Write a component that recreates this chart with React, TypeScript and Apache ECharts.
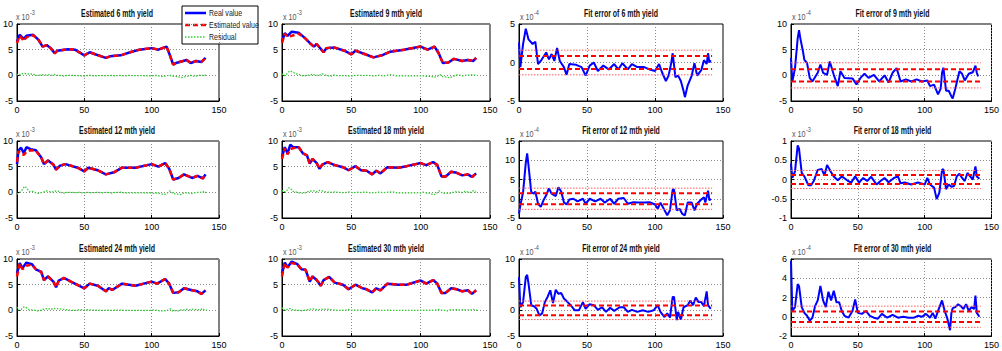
import React, { useEffect, useRef } from 'react';
import * as echarts from 'echarts';

// ---------- DATA (yields in units of 1e-3, fit errors in the units shown on each axis) ----------
const xTicks = [0, 50, 100, 150];

const real6 = [[0,6.6],[2,7.9],[5,7.1],[7,7.7],[12,7.9],[16,6.9],[19,5.6],[22,5.9],[25,5.3],[28,4.3],[30,4.8],[38,5.1],[43,5.0],[50,3.9],[54,4.5],[58,4.1],[66,3.4],[69,3.7],[77,3.9],[84,4.5],[91,5.0],[100,5.3],[105,5.0],[111,5.6],[113,4.3],[116,2.1],[118,2.4],[122,2.7],[126,3.0],[129,2.4],[133,2.8],[137,2.6],[140,3.4]];
const real9 = [[0,6.6],[2,8.2],[4,7.7],[7,8.5],[12,8.3],[16,7.4],[20,6.3],[23,5.6],[25,6.1],[30,4.5],[32,5.3],[38,5.4],[45,4.8],[50,4.1],[53,4.8],[60,4.1],[66,3.5],[72,3.9],[78,4.6],[88,5.0],[100,5.6],[105,5.0],[110,5.6],[113,4.3],[116,2.4],[120,2.5],[124,3.2],[130,2.8],[134,3.0],[138,2.8],[140,3.4]];
const real12 = [[0,5.5],[1,8.1],[3,8.7],[5,7.6],[7,8.8],[10,8.4],[14,8.2],[18,6.8],[20,5.5],[23,6.2],[27,5.4],[29,4.4],[32,5.2],[36,5.5],[45,4.8],[50,4.1],[53,4.8],[60,4.3],[66,3.5],[72,3.9],[78,4.8],[88,4.8],[100,5.5],[105,5.0],[110,5.7],[113,4.6],[116,2.5],[120,2.8],[124,3.5],[130,2.8],[134,3.2],[138,2.7],[140,3.5]];
const real18 = [[0,6.9],[2,8.8],[4,7.6],[6,9.3],[8,8.8],[12,8.8],[15,7.6],[18,7.2],[20,5.6],[22,6.5],[25,5.7],[27,4.6],[29,5.4],[33,5.9],[38,5.3],[44,4.9],[48,4.3],[53,5.1],[57,4.3],[61,4.2],[65,3.5],[68,4.2],[71,3.7],[76,4.9],[84,4.8],[90,5.1],[100,5.7],[104,5.3],[109,5.9],[112,5.3],[115,3.1],[118,3.1],[122,4.0],[126,3.8],[130,3.3],[134,3.5],[137,3.0],[140,3.7]];
const real24 = [[0,7.2],[2,9.2],[4,8.2],[7,9.3],[11,9.0],[14,8.0],[18,7.5],[20,5.9],[23,6.6],[27,5.6],[29,4.5],[31,5.8],[35,6.3],[40,5.6],[46,4.8],[50,4.3],[54,5.2],[60,4.8],[66,3.7],[68,4.3],[71,4.0],[78,5.2],[88,4.8],[100,5.6],[104,5.2],[110,6.1],[113,5.2],[116,3.4],[120,3.5],[124,4.3],[130,3.9],[134,3.7],[137,3.2],[140,3.9]];
const real30 = [[0,7.2],[2,9.3],[4,8.4],[7,9.5],[11,9.0],[14,8.0],[17,7.9],[20,5.6],[22,6.6],[25,5.9],[28,4.8],[30,5.9],[34,6.5],[38,5.4],[44,5.0],[48,4.1],[53,5.0],[58,4.3],[61,4.1],[65,3.5],[68,4.3],[71,3.9],[76,5.2],[84,5.0],[90,5.0],[100,5.8],[104,5.2],[109,5.9],[112,5.2],[115,3.4],[118,3.4],[122,4.3],[126,4.1],[130,3.7],[134,3.9],[137,3.2],[140,3.9]];

// estimated values: where they visibly depart from the real values (first months)
const estHead6 = [[0,6.3],[2,7.7],[5,6.7],[7,7.4],[12,7.8]];
const estHead9 = [[0,6.3],[2,8.1],[4,7.5],[7,7.7],[12,8.1]];
const estHead12 = [[0,5.9],[1,8.0],[3,7.5],[5,7.3],[7,7.9],[10,8.2],[14,8.1]];
const estHead18 = [[0,6.5],[2,8.6],[4,7.4],[6,8.4],[8,8.6],[12,8.8]];
const estHead24 = [[0,6.6],[2,9.1],[4,8.0],[7,8.7],[11,8.9]];
const estHead30 = [[0,6.6],[2,9.2],[4,8.3],[7,9.2],[11,9.0]];

// fit errors: 6, 9, 12, 24, 30 mth in 1e-4 ; 18 mth in 1e-3
const fit6 = [[0,2.6],[1,-0.6],[3,2.4],[5,4.4],[7,3.0],[10,2.4],[12,2.7],[14,-0.2],[16,0.2],[20,1.3],[22,0.4],[24,1.1],[26,0.2],[28,1.9],[30,0.2],[33,-0.6],[35,-1.6],[37,-0.2],[42,-0.3],[46,-0.6],[49,-1.7],[52,-0.4],[55,0],[58,-1.1],[62,-0.4],[66,-0.9],[70,-0.2],[73,-0.9],[76,-0.1],[80,-0.9],[83,-0.2],[87,-0.6],[92,-0.6],[96,-0.9],[100,-1.1],[103,-0.2],[105,-1.2],[108,-2.4],[110,-1.7],[112,0],[113,1.2],[115,-1.9],[117,-1.7],[119,-2.4],[121,-3.7],[122,-4.5],[124,-3.0],[127,-1.7],[129,-0.1],[131,-1.7],[134,-1.0],[136,0.3],[138,-0.2],[139,1.2],[140,0],[141,0.3]];
const fit9 = [[0,3.4],[1,-1.2],[3,1.4],[5,7.2],[6,8.8],[7,7.2],[9,4.6],[10,3.0],[12,2.4],[14,-0.5],[16,-1.2],[20,0.5],[22,2.1],[24,0.5],[27,0.1],[29,2.7],[32,0.1],[35,-2.1],[37,0.8],[40,-0.5],[46,-0.6],[49,-1.8],[52,-0.5],[55,0.3],[58,-0.5],[62,0.1],[66,-1.2],[70,0],[73,-1.4],[76,0.5],[79,1.4],[82,-1.2],[86,-0.8],[90,-1.2],[94,-0.8],[98,-1.2],[102,-1.0],[104,-2.1],[107,-1.8],[110,-3.7],[112,-2.6],[113,0.5],[114,1.5],[116,-3.0],[118,-3.0],[120,-4.1],[121,-4.5],[123,-2.5],[126,0.8],[128,0.3],[130,-1.0],[133,0.3],[136,0.6],[138,1.9],[139,0.5],[140,-0.2]];
const fit12 = [[0,-3.9],[1,-1.7],[3,1.7],[5,9.4],[6,11.8],[7,8.6],[9,1.7],[11,1.3],[12,1.9],[14,-1.3],[16,-2.1],[18,-0.4],[20,0.9],[22,2.7],[24,1.3],[27,0.7],[29,3.0],[31,1.9],[33,-0.9],[35,-1.5],[37,-0.2],[40,0],[43,-0.7],[47,0],[49,-1.3],[52,0],[56,-0.7],[60,0],[63,-1.0],[67,0],[70,-1.3],[73,0],[77,0.2],[80,-1.3],[84,-0.9],[88,-1.0],[92,-1.0],[96,-0.9],[100,-1.5],[102,-2.6],[104,-1.0],[107,-3.0],[109,-4.3],[111,-3.0],[113,2.4],[114,2.4],[116,-3.0],[118,-2.6],[120,-3.9],[122,-4.3],[124,-1.0],[127,-1.0],[129,-3.0],[131,-1.3],[134,-0.2],[136,0.4],[137,-1.0],[139,2.1],[140,-0.4],[141,0]];
const fit18 = [[0,0.42],[1,0.04],[3,0.21],[5,0.89],[6,0.8],[8,0.17],[10,0.08],[13,-0.15],[15,-0.15],[17,-0.04],[20,0.25],[23,0.27],[25,0.1],[27,0.38],[30,0.19],[32,0.08],[35,-0.02],[38,0.08],[42,-0.02],[45,-0.08],[48,0.08],[51,-0.08],[54,0.04],[57,-0.04],[60,0.07],[64,-0.13],[67,-0.04],[70,0.04],[73,-0.07],[77,0.04],[80,0.08],[82,-0.1],[85,-0.08],[90,-0.13],[95,-0.08],[100,-0.13],[102,0.04],[104,-0.13],[107,-0.21],[109,-0.51],[111,-0.34],[113,0.25],[114,0.27],[116,-0.25],[118,-0.13],[120,-0.19],[122,-0.17],[124,0.08],[126,0.15],[128,0.04],[130,-0.04],[132,0.17],[134,0.08],[136,0],[138,0.34],[139,0.08],[141,0.02]];
const fit24 = [[0,6.5],[1,0.6],[3,1.6],[5,6.5],[6,6.9],[7,5.2],[9,1.0],[11,0.8],[13,0.3],[15,-1.0],[17,-0.6],[19,1.6],[21,2.6],[23,3.9],[25,1.4],[27,4.0],[29,3.2],[31,3.4],[33,2.3],[35,1.8],[38,1.0],[41,0],[44,0],[47,1.6],[49,0.3],[52,1.2],[55,1.0],[58,0.1],[61,0.6],[64,-0.3],[67,0.5],[70,-0.1],[74,0.6],[77,0.6],[80,-0.3],[83,0.1],[87,-0.3],[91,0],[95,-0.3],[99,0],[102,1.0],[104,-0.3],[107,-1.3],[109,-0.6],[111,-1.4],[113,2.6],[114,2.6],[116,-1.9],[117,-0.3],[119,-1.8],[121,0.6],[124,1.0],[126,1.9],[128,1.0],[130,2.5],[132,1.6],[134,1.6],[136,0.8],[138,3.7],[139,1.0],[141,0.3]];
const fit30 = [[0,5.8],[1,0.6],[3,1.0],[5,3.4],[6,3.2],[8,1.0],[10,0.4],[12,0.1],[14,-0.4],[16,-0.1],[18,1.1],[20,1.7],[22,3.2],[24,1.7],[26,1.0],[28,2.6],[30,1.7],[32,2.7],[34,1.5],[36,1.5],[38,0.6],[40,0.1],[43,-0.1],[46,0.6],[48,1.8],[50,0.4],[53,0.3],[56,0.6],[59,0.1],[62,-0.1],[65,-0.2],[68,0.3],[72,-0.1],[76,0.2],[80,-0.1],[84,0],[88,-0.1],[92,-0.1],[95,0.1],[98,0],[101,0.3],[104,-0.1],[106,0.4],[108,-0.2],[110,0.6],[113,1.7],[115,0.6],[117,-0.2],[119,-1.4],[120,0.4],[121,0.9],[123,1.0],[125,1.3],[127,1.1],[129,0.8],[131,1.3],[133,0.6],[135,1.0],[137,0.8],[138,2.2],[139,0.4],[141,0]];

// confidence bands [dashed, dotted]
const band6 = [0.85, 1.6];
const band9 = [1.2, 2.45];
const band12 = [1.4, 2.75];
const band18 = [0.12, 0.235];
const band24 = [0.95, 1.8];
const band30 = [0.55, 1.1];
const bandEnd = 142;

// y-axis ranges [min, max, interval]
const yieldAxis = [-5, 10, 5];
const fitAxis6 = [-5, 5, 5];
const fitAxis9 = [-5, 10, 5];
const fitAxis12 = [-5, 15, 5];
const fitAxis18 = [-1, 1, 0.5];
const fitAxis24 = [-5, 10, 5];
const fitAxis30 = [-2, 6, 2];

const legendNames = ['Real value', 'Estimated value', 'Residual'];

// ---------- helpers ----------
const withHead = (head: number[][], real: number[][]) =>
  head.concat(real.filter((p) => p[0] > head[head.length - 1][0]));
// residuals of the yield plots are the fit errors expressed in units of 1e-3
const toE3 = (fit: number[][], scale: number) => fit.map((p) => [p[0], p[1] * scale]);

type Plot = {
  kind: 'yield' | 'fit';
  title: string;
  exp: string;
  col: number;
  row: number;
  axis: number[];
  real?: number[][];
  est?: number[][];
  res?: number[][];
  fit?: number[][];
  band?: number[];
};

const plots: Plot[] = [
  { kind: 'yield', title: 'Estimated 6 mth yield', exp: '-3', col: 0, row: 0, axis: yieldAxis, real: real6, est: withHead(estHead6, real6), res: toE3(fit6, 0.1) },
  { kind: 'yield', title: 'Estimated 9 mth yield', exp: '-3', col: 1, row: 0, axis: yieldAxis, real: real9, est: withHead(estHead9, real9), res: toE3(fit9, 0.1) },
  { kind: 'yield', title: 'Estimated 12 mth yield', exp: '-3', col: 0, row: 1, axis: yieldAxis, real: real12, est: withHead(estHead12, real12), res: toE3(fit12, 0.1) },
  { kind: 'yield', title: 'Estimated 18 mth yield', exp: '-3', col: 1, row: 1, axis: yieldAxis, real: real18, est: withHead(estHead18, real18), res: toE3(fit18, 1) },
  { kind: 'yield', title: 'Estimated 24 mth yield', exp: '-3', col: 0, row: 2, axis: yieldAxis, real: real24, est: withHead(estHead24, real24), res: toE3(fit24, 0.1) },
  { kind: 'yield', title: 'Estimated 30 mth yield', exp: '-3', col: 1, row: 2, axis: yieldAxis, real: real30, est: withHead(estHead30, real30), res: toE3(fit30, 0.1) },
  { kind: 'fit', title: 'Fit error of 6 mth yield', exp: '-4', col: 2, row: 0, axis: fitAxis6, fit: fit6, band: band6 },
  { kind: 'fit', title: 'Fit error of 9 mth yield', exp: '-4', col: 3, row: 0, axis: fitAxis9, fit: fit9, band: band9 },
  { kind: 'fit', title: 'Fit error of 12 mth yield', exp: '-4', col: 2, row: 1, axis: fitAxis12, fit: fit12, band: band12 },
  { kind: 'fit', title: 'Fit error of 18 mth yield', exp: '-3', col: 3, row: 1, axis: fitAxis18, fit: fit18, band: band18 },
  { kind: 'fit', title: 'Fit error of 24 mth yield', exp: '-4', col: 2, row: 2, axis: fitAxis24, fit: fit24, band: band24 },
  { kind: 'fit', title: 'Fit error of 30 mth yield', exp: '-4', col: 3, row: 2, axis: fitAxis30, fit: fit30, band: band30 },
];

// ---------- layout ----------
const COLS = [
  { left: 15, width: 204 },
  { left: 282, width: 208 },
  { left: 519, width: 204 },
  { left: 791, width: 203 },
];
const ROWS = [
  { top: 24, height: 77 },
  { top: 141, height: 77 },
  { top: 259, height: 77 },
];
const FONT = "'Liberation Sans', Arial, sans-serif";
const SQUEEZE = 0.7;

const BLUE = '#0000ff';
const RED = '#ff0000';
const GREEN = '#33cc33';

function buildOption() {
  const grid: any[] = [];
  const xAxis: any[] = [];
  const yAxis: any[] = [];
  const series: any[] = [];
  const graphic: any[] = [];

  plots.forEach((p, i) => {
    const c = COLS[p.col];
    const r = ROWS[p.row];
    grid.push({
      left: c.left, top: r.top, width: c.width, height: r.height,
      show: true, borderColor: '#000', borderWidth: 1, backgroundColor: '#fff',
    });
    const common = {
      gridIndex: i,
      type: 'value',
      axisLine: { show: true, onZero: false, lineStyle: { color: '#000', width: 1 } },
      axisTick: { show: true, inside: true, length: 3, lineStyle: { color: '#000' } },
      splitLine: { show: true, lineStyle: { color: '#8a8a8a', type: [1, 2], width: 1 } },
      axisLabel: { color: '#000', fontSize: 9, fontFamily: FONT, margin: 4 },
    };
    xAxis.push({ ...common, min: xTicks[0], max: xTicks[xTicks.length - 1], interval: xTicks[1] - xTicks[0] });
    yAxis.push({ ...common, min: p.axis[0], max: p.axis[1], interval: p.axis[2] });

    const legendable = i === 0;
    if (p.kind === 'yield') {
      series.push({
        name: legendable ? legendNames[0] : `real-${i}`, type: 'line', xAxisIndex: i, yAxisIndex: i,
        data: p.real, showSymbol: false, symbol: 'none',
        lineStyle: { color: BLUE, width: 2.5 }, itemStyle: { color: BLUE },
      });
      series.push({
        name: legendable ? legendNames[1] : `est-${i}`, type: 'line', xAxisIndex: i, yAxisIndex: i,
        data: p.est, showSymbol: false, symbol: 'none',
        lineStyle: { color: RED, width: 2.5, type: [5, 3] }, itemStyle: { color: RED },
      });
      series.push({
        name: legendable ? legendNames[2] : `res-${i}`, type: 'line', xAxisIndex: i, yAxisIndex: i,
        data: p.res, showSymbol: false, symbol: 'none',
        lineStyle: { color: GREEN, width: 1.3, type: [1.5, 1.5] }, itemStyle: { color: GREEN },
      });
    } else {
      series.push({
        name: `fit-${i}`, type: 'line', xAxisIndex: i, yAxisIndex: i,
        data: p.fit, showSymbol: false, symbol: 'none',
        lineStyle: { color: BLUE, width: 2 },
      });
      const b = p.band as number[];
      [b[1], -b[1]].forEach((v, k) => {
        series.push({
          name: `band-o-${i}-${k}`, type: 'line', xAxisIndex: i, yAxisIndex: i,
          data: [[0, v], [bandEnd, v]], showSymbol: false, symbol: 'none',
          lineStyle: { color: '#ff5a5a', width: 1, type: [1.5, 1.5] },
        });
      });
      [b[0], -b[0]].forEach((v, k) => {
        series.push({
          name: `band-d-${i}-${k}`, type: 'line', xAxisIndex: i, yAxisIndex: i,
          data: [[0, v], [bandEnd, v]], showSymbol: false, symbol: 'none',
          lineStyle: { color: RED, width: 2, type: [5, 3] },
        });
      });
    }

    // title
    graphic.push({
      type: 'text', x: c.left + c.width / 2, y: r.top - 10, scaleX: SQUEEZE,
      style: { text: p.title, fontSize: 10, fontFamily: FONT, fontWeight: 'bold', fill: '#111', align: 'center', verticalAlign: 'middle' },
    });
    // exponent label
    graphic.push({
      type: 'text', x: c.left + 1, y: r.top - 7, scaleX: SQUEEZE + 0.1,
      style: { text: 'x 10', fontSize: 9, fontFamily: FONT, fill: '#555', align: 'left', verticalAlign: 'middle' },
    });
    graphic.push({
      type: 'text', x: c.left + 15, y: r.top - 12, scaleX: SQUEEZE + 0.1,
      style: { text: p.exp, fontSize: 7, fontFamily: FONT, fill: '#555', align: 'left', verticalAlign: 'middle' },
    });
  });

  // legend box (first panel), drawn on top
  const lg = { x: 182, y: 6, w: 76, h: 38, rowY: [13, 25, 37] };
  const legendChildren: any[] = [
    { type: 'rect', shape: { x: lg.x, y: lg.y, width: lg.w, height: lg.h }, style: { fill: '#fff', stroke: '#000', lineWidth: 1 } },
  ];
  const legendStyles = [
    { stroke: BLUE, lineWidth: 2.5 },
    { stroke: RED, lineWidth: 2.5, lineDash: [5, 3] },
    { stroke: GREEN, lineWidth: 1.3, lineDash: [1.5, 1.5] },
  ];
  legendNames.forEach((name, k) => {
    const yy = lg.rowY[k];
    legendChildren.push({ type: 'line', shape: { x1: lg.x + 3, y1: yy, x2: lg.x + 24, y2: yy }, style: legendStyles[k] });
    legendChildren.push({
      type: 'text', x: lg.x + 27, y: yy, scaleX: 0.78,
      style: { text: name, fontSize: 9, fontFamily: FONT, fill: '#222', align: 'left', verticalAlign: 'middle' },
    });
  });
  graphic.push({ type: 'group', z: 100, children: legendChildren });

  return {
    animation: false,
    backgroundColor: '#fff',
    grid, xAxis, yAxis, series, graphic,
  };
}

export default function App() {
  const ref = useRef<HTMLDivElement>(null);
  useEffect(() => {
    if (!ref.current) return;
    const chart = echarts.init(ref.current, undefined, { renderer: 'svg' });
    chart.setOption(buildOption() as any);
    return () => chart.dispose();
  }, []);
  return <div ref={ref} style={{ width: 1002, height: 351, position: 'absolute', left: 0, top: 0 }} />;
}
